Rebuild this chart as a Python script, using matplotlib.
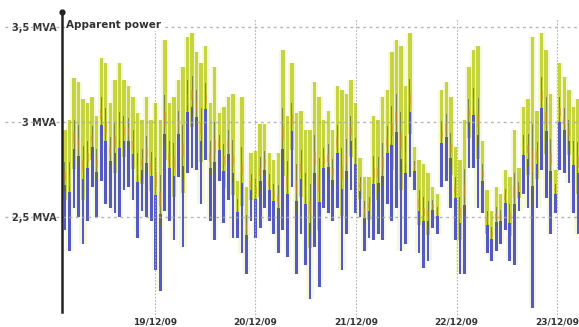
import numpy as np
import pandas as pd
import matplotlib
matplotlib.use("Agg")
import matplotlib.pyplot as plt
import matplotlib.dates as mdates
from matplotlib.transforms import blended_transform_factory

# Apparent power per interval: peak and minimum values (MVA)
first_interval = "2009-12-18 02:30"
last_interval = "2009-12-23 05:00"

peak_mva = [
    2.96, 3.01, 3.23, 3.21, 3.12, 3.10, 3.13, 3.03, 3.34, 3.31,
    3.10, 3.22, 3.31, 3.22, 3.19, 3.13, 3.05, 3.01, 3.13, 3.01,
    3.10, 3.01, 3.43, 3.10, 3.13, 3.22, 3.29, 3.45, 3.47, 3.37,
    3.31, 3.40, 3.10, 3.29, 3.05, 3.08, 3.13, 3.15, 2.69, 3.13,
    2.66, 2.84, 2.85, 2.99, 2.99, 2.84, 2.80, 2.84, 3.38, 3.03,
    3.31, 3.05, 3.06, 2.96, 2.96, 3.21, 3.13, 3.01, 3.06, 2.96,
    3.19, 3.17, 3.15, 3.22, 3.10, 2.81, 2.71, 2.71, 3.03, 3.01,
    3.13, 3.17, 3.37, 3.43, 3.40, 3.19, 3.47, 2.87, 2.80, 2.78,
    2.73, 2.66, 2.62, 3.17, 3.21, 3.13, 2.87, 2.80, 3.01, 3.29,
    3.38, 3.40, 2.90, 2.64, 2.53, 2.66, 2.62, 2.75, 2.71, 2.96,
    2.76, 3.08, 3.12, 3.45, 3.06, 3.47, 3.38, 3.15, 2.75, 3.31,
    3.24, 3.17, 3.08, 3.12,
]
min_mva = [
    2.43, 2.32, 2.55, 2.50, 2.36, 2.48, 2.66, 2.50, 2.69, 2.57,
    2.55, 2.52, 2.50, 2.64, 2.66, 2.59, 2.39, 2.53, 2.50, 2.48,
    2.22, 2.11, 2.53, 2.48, 2.38, 2.71, 2.34, 2.73, 2.76, 2.75,
    2.57, 2.80, 2.48, 2.38, 2.69, 2.47, 2.59, 2.39, 2.39, 2.31,
    2.20, 2.48, 2.39, 2.44, 2.55, 2.48, 2.41, 2.31, 2.43, 2.29,
    2.66, 2.20, 2.41, 2.25, 2.07, 2.34, 2.13, 2.55, 2.52, 2.48,
    2.55, 2.22, 2.41, 2.64, 2.52, 2.50, 2.32, 2.39, 2.38, 2.41,
    2.38, 2.57, 2.48, 2.55, 2.32, 2.36, 2.71, 2.64, 2.31, 2.23,
    2.27, 2.44, 2.41, 2.66, 2.69, 2.55, 2.38, 2.20, 2.20, 2.76,
    2.76, 2.55, 2.52, 2.31, 2.27, 2.32, 2.36, 2.43, 2.27, 2.25,
    2.53, 2.62, 2.55, 2.02, 2.55, 2.75, 2.60, 2.41, 2.52, 2.75,
    2.73, 2.68, 2.52, 2.41,
]

y_ticks = [2.5, 3.0, 3.5]
y_tick_labels = ["2,5 MVA", "3 MVA", "3,5 MVA"]
day_ticks = ["2009-12-19", "2009-12-20", "2009-12-21", "2009-12-22", "2009-12-23"]
day_labels = ["19/12/09", "20/12/09", "21/12/09", "22/12/09", "23/12/09"]
axis_title = "Apparent power"

times = pd.date_range(first_interval, last_interval, periods=len(peak_mva))
t = mdates.date2num(times.to_pydatetime())
hi = np.array(peak_mva)
lo = np.array(min_mva)
rng = hi - lo
step = t[1] - t[0]

W, H = 579, 327
fig = plt.figure(figsize=(W / 100, H / 100), dpi=100)
ax = fig.add_axes([62 / W, (327 - 312) / H, (W - 62) / W, (312 - 12) / H])

x_left = mdates.date2num(pd.Timestamp("2009-12-18 01:48").to_pydatetime())
x_right = mdates.date2num(pd.Timestamp("2009-12-23 05:15").to_pydatetime())
ax.set_xlim(x_left, x_right)
ax.set_ylim(2.0, 3.58)

c_haze = "#eef3b8"
c_green = "#c6d53e"
c_blue = "#5559c6"
c_olive = "#5f6a3a"
c_orange = "#e0862a"

# soft haze behind each interval
ax.bar(t, rng, bottom=lo, width=step * 1.6, color=c_haze, alpha=0.5,
       linewidth=0, zorder=1)
# upper range (yellow-green)
ax.bar(t, hi - (lo + 0.3 * rng), bottom=lo + 0.3 * rng, width=step * 0.75,
       color=c_green, linewidth=0, zorder=2)
# lower range (blue)
ax.bar(t, 0.45 * rng, bottom=lo, width=step * 0.6, color=c_blue,
       linewidth=0, zorder=3)
# darker core
ax.bar(t, 0.3 * rng, bottom=lo + 0.38 * rng, width=step * 0.22,
       color=c_olive, alpha=0.7, linewidth=0, zorder=4)
# mean band (orange)
ax.bar(t, 0.08 * rng, bottom=lo + 0.5 * rng, width=step * 0.4,
       color=c_orange, alpha=0.55, linewidth=0, zorder=5)

# grid
trans_h = blended_transform_factory(ax.transAxes, ax.transData)
for yv in y_ticks:
    ax.plot([-0.11, 1.0], [yv, yv], transform=trans_h, color="#a8a8a8",
            lw=1.0, ls=(0, (2, 2.6)), clip_on=False, zorder=6, alpha=0.85)

trans_v = blended_transform_factory(ax.transData, ax.transAxes)
day_num = [mdates.date2num(pd.Timestamp(d).to_pydatetime()) for d in day_ticks]
for xv in day_num:
    ax.plot([xv, xv], [-0.02, 0.98], transform=trans_v, color="#a8a8a8",
            lw=0.8, ls=(0, (1.5, 1.5)), clip_on=False, zorder=6, alpha=0.85)

for s in ["top", "right", "bottom"]:
    ax.spines[s].set_visible(False)
ax.spines["left"].set_linewidth(1.8)
ax.spines["left"].set_color("#222222")
ax.spines["left"].set_zorder(10)
ax.plot([0], [1.0], transform=ax.transAxes, marker="o", ms=3.5,
        color="#222222", clip_on=False, zorder=10)

ax.set_yticks(y_ticks)
ax.set_yticklabels(y_tick_labels, fontsize=7, fontweight="bold",
                   color="#333333", family="DejaVu Sans")
ax.tick_params(axis="y", length=0, pad=4)

ax.set_xticks(day_num)
ax.set_xticklabels(day_labels, fontsize=6.5, fontweight="bold",
                   color="#333333", family="DejaVu Sans")
ax.tick_params(axis="x", length=0, pad=4)

ax.text(0.008, y_ticks[-1] + 0.01, axis_title, transform=trans_h,
        fontsize=7.5, color="#333333", fontweight="bold",
        family="DejaVu Sans", va="center", ha="left", zorder=11,
        bbox=dict(facecolor="white", edgecolor="none", pad=0.8))

fig.savefig("out.png", dpi=100)
